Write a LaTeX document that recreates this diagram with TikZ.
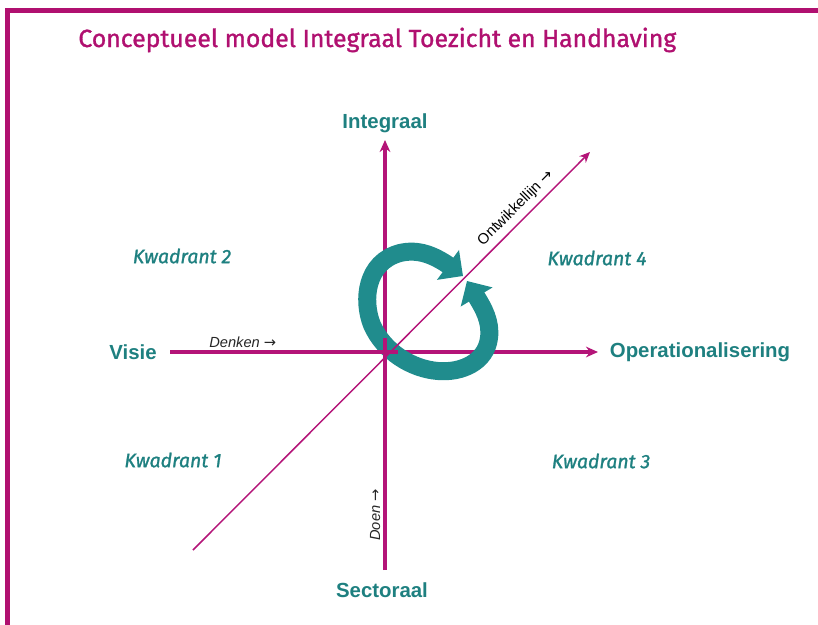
\documentclass[tikz,border=0pt]{standalone}
\usepackage{fontspec}
\setmainfont{Liberation Sans}
\newfontfamily\dinfont[FakeBold=1.2]{Fira Sans}
\newfontfamily\arrowfont{DejaVu Sans}
\usepackage{tikz}
\usetikzlibrary{arrows.meta, bending}

\definecolor{framemagenta}{RGB}{176,16,112}
\definecolor{axismagenta}{RGB}{180,20,120}
\definecolor{labelteal}{RGB}{30,128,128}
\definecolor{ringteal}{RGB}{32,140,141}

\begin{document}
\begin{tikzpicture}[
		x = 0.75pt, y = -0.75pt, % pixel grid, y downwards
		> = {Stealth[length=9pt, width=8pt]}, % arrow head style
		semithick % line style
		]
		
		\tikzstyle{axis}=[draw = axismagenta, line width = 2.4pt, ->]
		\tikzstyle{diag}=[draw = axismagenta, line width = 1.1pt, ->, > = {Stealth[length=8pt, width=7pt]}]
		\tikzstyle{pole}=[text = labelteal, font = \bfseries\fontsize{15.3}{18}\selectfont]
		\tikzstyle{quadrant}=[text = labelteal, font = \dinfont\itshape\fontsize{14.6}{17}\selectfont]
		\tikzstyle{axlabel}=[text = black!85, font = \itshape\fontsize{11}{13}\selectfont, inner sep = 2pt]
		\tikzstyle{ring_arrow}=[draw = ringteal, line width = 13.5pt,
		{Triangle[length=14pt, width=27pt]}-{Triangle[length=14pt, width=27pt]}]
		
		\useasboundingbox (0,0) rectangle (818,625);
		
		% frame
		\draw[framemagenta, line width = 4pt] (7.5,625) -- (7.5,10.5) -- (818,10.5);
		\node[anchor = base west, text = framemagenta, font = \dinfont\fontsize{18.6}{22}\selectfont, inner sep = 0pt] (title) at (78,47) {Conceptueel model Integraal Toezicht en Handhaving};
		
		% axis end points
		\coordinate (v_bot) at (385,570);
		\coordinate (v_top) at (385,140);
		\coordinate (h_left) at (170,352);
		\coordinate (h_right) at (598,352);
		\coordinate (d_bot) at (193,550);
		\coordinate (d_top) at (590,152);
		
		\path[axis, line width = 3pt] (v_bot) -- (v_top) node[axlabel, pos = 0.128, sloped, above] {Doen {\arrowfont\upshape →}};
		\path[axis] (h_left) -- (h_right) node[axlabel, pos = 0.17, above] {Denken {\arrowfont\upshape →}};
		
		% cycle
		\draw[ring_arrow] (467,281) .. controls (476,298) and (492,315) .. (489,338)
			.. controls (486,362) and (462,373) .. (438,371)
			.. controls (412,369) and (384,352) .. (372,325)
			.. controls (362,300) and (366,262) .. (400,253)
			.. controls (425,247) and (445,262) .. (463,276);
		
		\path[diag] (d_bot) -- (d_top) node[pos = 0.836, sloped, above, font = \fontsize{11.2}{13}\selectfont, inner sep = 4pt] {Ontwikkellijn {\arrowfont →}};
		\draw[axismagenta, line width = 3pt] (385,338) -- (385,368);
		\draw[axismagenta, line width = 2.4pt] (372,352) -- (398,352);
		
		% poles
		\node[pole] (integraal) at (385,123) {Integraal};
		\node[pole] (sectoraal) at (382,590) {Sectoraal};
		\node[pole] (visie) at (133,352) {Visie};
		\node[pole] (operat) at (700,352) {Operationalisering};
		
		% quadrants
		\node[quadrant] (kw_2) at (182,256) {Kwadrant 2};
		\node[quadrant] (kw_4) at (597,258) {Kwadrant 4};
		\node[quadrant] (kw_1) at (173,460) {Kwadrant 1};
		\node[quadrant] (kw_3) at (601,461) {Kwadrant 3};
		\end{tikzpicture}
\end{document}
